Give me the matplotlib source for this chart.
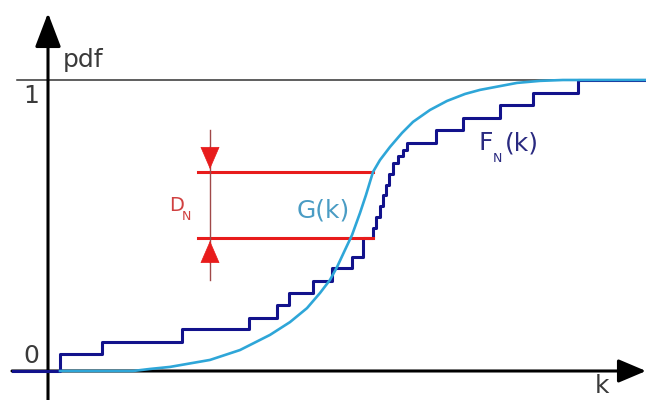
import matplotlib
matplotlib.use("Agg")
import matplotlib.pyplot as plt

# smooth distribution G(k)
g_k = [0.12, 0.85, 1.02, 1.22, 1.62, 1.92, 2.22, 2.42, 2.59, 2.72, 2.82, 2.89, 2.97, 3.04, 3.12,
       3.18, 3.25, 3.32, 3.42, 3.54, 3.65, 3.82, 3.99, 4.17, 4.32, 4.52, 4.69, 4.92, 5.15, 5.98]
g_val = [0, 0, 0.007, 0.014, 0.038, 0.072, 0.124, 0.168, 0.216, 0.268, 0.313, 0.357, 0.416, 0.467, 0.543,
         0.605, 0.684, 0.725, 0.770, 0.818, 0.856, 0.897, 0.928, 0.952, 0.966, 0.979, 0.990, 0.997, 1.0, 1.0]

# empirical distribution F_N(k): jump positions and level after each jump
fn_k = [-0.35, 0.12, 0.54, 1.34, 2.01, 2.29, 2.41, 2.65, 2.84, 3.04,
        3.15, 3.25, 3.28, 3.32, 3.35, 3.38, 3.41, 3.45, 3.50, 3.55,
        3.59, 3.88, 4.15, 4.52, 4.85, 5.30, 5.98]
fn_val = [0, 0.058, 0.100, 0.144, 0.182, 0.227, 0.268, 0.309, 0.354, 0.392,
          0.457, 0.491, 0.529, 0.567, 0.605, 0.639, 0.677, 0.715, 0.739, 0.759,
          0.784, 0.828, 0.869, 0.914, 0.955, 1.0, 1.0]

# D_N: largest gap between G and F_N
dn_k = 3.25
dn_top = 0.684
dn_bottom = 0.457
dn_left = 1.50
dn_bar_k = 1.62

AXIS = "black"
F_COL = "#12128c"
G_COL = "#2ea6d8"
RED = "#e81c1c"


def arrow(ax, tail, tip, hl, hw, lw, color, z=3):
    ax.annotate("", xy=tip, xytext=tail, annotation_clip=False,
                arrowprops=dict(arrowstyle=f"-|>,head_length={hl},head_width={hw}",
                                lw=lw, color=color, shrinkA=0, shrinkB=0,
                                mutation_scale=10),
                zorder=z)


fig = plt.figure(figsize=(6.46, 4.0), dpi=100)
ax = fig.add_axes([0, 0, 1, 1])
ax.set_xlim(-0.48, 5.98)
ax.set_ylim(-0.0997, 1.2749)
ax.axis("off")

# line at 1 and the two axes
ax.plot([-0.31, 5.98], [1, 1], color="#333333", lw=1.1, zorder=1)
arrow(ax, (-0.36, 0), (5.98, 0), 1.7, 0.72, 2.2, AXIS, z=1)
arrow(ax, (0, -0.0997), (0, 1.23), 2.1, 0.8, 2.2, AXIS, z=1)

# curves
ax.plot(g_k, g_val, color=G_COL, lw=1.9, zorder=3)
ax.step(fn_k, fn_val, where="post", color=F_COL, lw=2.2, zorder=2)

# D_N bracket
ax.plot([dn_left, dn_k], [dn_top, dn_top], color=RED, lw=2.2, zorder=2)
ax.plot([dn_left, dn_k], [dn_bottom, dn_bottom], color=RED, lw=2.2, zorder=2)
ax.plot([dn_bar_k, dn_bar_k], [0.313, 0.828], color="#a04848", lw=1.0, zorder=2)
arrow(ax, (dn_bar_k, 0.770), (dn_bar_k, dn_top + 0.01), 1.5, 0.65, 0.5, RED)
arrow(ax, (dn_bar_k, 0.371), (dn_bar_k, dn_bottom - 0.01), 1.5, 0.65, 0.5, RED)

# labels
txt = "#3a3a3a"
ax.text(0.15, 1.045, "pdf", fontsize=18, color=txt, ha="left", va="baseline")
ax.text(-0.17, 0.945, "1", fontsize=18, color=txt, ha="center", va="center")
ax.text(-0.17, 0.052, "0", fontsize=18, color=txt, ha="center", va="center")
ax.text(5.47, -0.0756, "k", fontsize=18, color=txt, ha="left", va="baseline")

ax.text(1.21, 0.55, "D", fontsize=14, color="#d04040", ha="left", va="baseline")
ax.text(1.34, 0.519, "N", fontsize=9, color="#d04040", ha="left", va="baseline")
ax.text(2.49, 0.526, "G(k)", fontsize=18, color="#4a9cc4", ha="left", va="baseline")
ax.text(4.31, 0.759, "F", fontsize=18, color="#2a2a80", ha="left", va="baseline")
ax.text(4.45, 0.718, "N", fontsize=9, color="#2a2a80", ha="left", va="baseline")
ax.text(4.57, 0.759, "(k)", fontsize=18, color="#2a2a80", ha="left", va="baseline")

fig.savefig("out.png", dpi=100)
